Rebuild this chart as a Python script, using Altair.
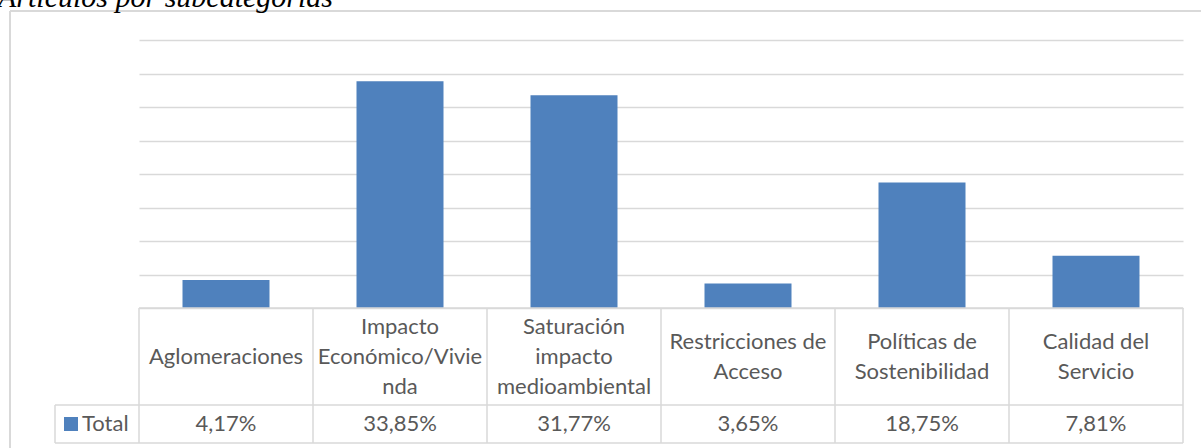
import altair as alt
import pandas as pd

# ---------------- data ----------------
categories = [
    "Aglomeraciones",
    "Impacto Económico/Vivienda",
    "Saturación impacto medioambiental",
    "Restricciones de Acceso",
    "Políticas de Sostenibilidad",
    "Calidad del Servicio",
]
label_lines = [
    ["Aglomeraciones"],
    ["Impacto", "Económico/Vivie", "nda"],
    ["Saturación", "impacto", "medioambiental"],
    ["Restricciones de", "Acceso"],
    ["Políticas de", "Sostenibilidad"],
    ["Calidad del", "Servicio"],
]
values = [4.17, 33.85, 31.77, 3.65, 18.75, 7.81]
series_name = "Total"
title_text = "Artículos por subcategorías"
y_ticks = [0, 5, 10, 15, 20, 25, 30, 35, 40]

# ---------------- layout constants ----------------
W, H = 1044, 268
PAD = {"left": 139, "top": 40, "right": 18, "bottom": 140}
GRID = "#d9d9d9"
BAR = "#4F81BD"
TXT = "#595959"
FONT = "Lato"
FS = 22
LH = 30
LABEL_MID = 316.5

df = pd.DataFrame({
    "cat": categories,
    "value": values,
    "pct": [f"{v:.2f}".replace(".", ",") + "%" for v in values],
    "lines": label_lines,
    "nlines": [len(l) for l in label_lines],
})

x_enc = alt.X("cat:N", sort=categories,
              scale=alt.Scale(paddingInner=0.5, paddingOuter=0.25), axis=None)
y_enc = alt.Y("value:Q", scale=alt.Scale(domain=[0, 40], nice=False),
              axis=alt.Axis(values=y_ticks, labels=False, ticks=False, domain=False,
                            grid=True, gridColor=GRID, gridWidth=1.3, title=None))

base = alt.Chart(df)

bars = base.mark_bar(color=BAR).encode(x=x_enc, y=y_enc)

cat_labels = base.transform_calculate(
    ly=f"{LABEL_MID} - (datum.nlines - 1) * {LH / 2}"
).mark_text(font=FONT, fontSize=FS, color=TXT, lineHeight=LH,
            baseline="middle", align="center").encode(
    x=x_enc, y=alt.Y("ly:Q", scale=None), text="lines")

pct_labels = base.mark_text(font=FONT, fontSize=FS, color=TXT,
                            baseline="middle", align="center").encode(
    x=x_enc, y=alt.value(384), text="pct:N")

# table borders (pixel layout)
step = W / len(categories)
hlines = pd.DataFrame({
    "x": [0, -84, -84],
    "x2": [W, W, W],
    "y": [H, 365, 403],
})
vx = [i * step for i in range(len(categories) + 1)]
vlines = pd.DataFrame({
    "x": vx + [-84],
    "y": [H] * len(vx) + [365],
    "y2": [403] * len(vx) + [403],
})
hrules = alt.Chart(hlines).mark_rule(color=GRID, strokeWidth=1.5).encode(
    x=alt.X("x:Q", scale=None), x2="x2:Q", y=alt.Y("y:Q", scale=None))
vrules = alt.Chart(vlines).mark_rule(color=GRID, strokeWidth=1.5).encode(
    x=alt.X("x:Q", scale=None), y=alt.Y("y:Q", scale=None), y2="y2:Q")

# outer frame
frame = pd.DataFrame({
    "x": [-129, -129],
    "x2": [-129, 1200],
    "y": [-29, -29],
    "y2": [500, -29],
})
frame_rules = alt.Chart(frame).mark_rule(color=GRID, strokeWidth=2).encode(
    x=alt.X("x:Q", scale=None), x2="x2:Q",
    y=alt.Y("y:Q", scale=None), y2="y2:Q")

# legend key + series name
leg = pd.DataFrame({"name": [series_name]})
key = alt.Chart(leg).mark_rect(color=BAR).encode(
    x=alt.value(-75), x2=alt.value(-61), y=alt.value(377), y2=alt.value(391))
key_text = alt.Chart(leg).mark_text(font=FONT, fontSize=FS, color=TXT,
                                    baseline="middle", align="left").encode(
    x=alt.value(-57), y=alt.value(384), text="name:N")

# title (cut at top like the reference)
tdf = pd.DataFrame({"t": [title_text]})
title = alt.Chart(tdf).mark_text(font="Liberation Serif", fontStyle="italic",
                                 fontSize=30, color="#000000",
                                 baseline="alphabetic", align="left").encode(
    x=alt.value(-141), y=alt.value(-33), text="t:N")

chart = alt.layer(
    bars, hrules, vrules, frame_rules, cat_labels, pct_labels, key, key_text, title
).properties(
    width=W, height=H,
    autosize=alt.AutoSizeParams(type="none"),
    padding=PAD,
).configure_view(stroke=None)

chart.save("out.html", embed_options={"renderer": "svg", "actions": False})
